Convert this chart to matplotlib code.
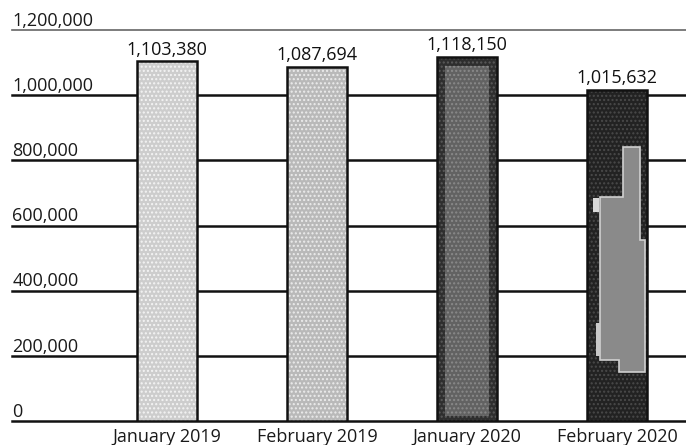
import matplotlib.pyplot as plt
import matplotlib.patches as mpatches
from matplotlib.colors import to_rgba

months = ["January 2019", "February 2019", "January 2020", "February 2020"]
totals = [1103380, 1087694, 1118150, 1015632]
ticks = [0, 200000, 400000, 600000, 800000, 1000000, 1200000]
fills = ["#cdcdcd", "#b9b9b9", "#2e2e2e", "#222222"]
hatch_cols = ["#f4f4f4", "#ececec", "#5a5a5a", "#4a4a4a"]

plt.rcParams['font.family'] = ['Open Sans', 'DejaVu Sans']

fig = plt.figure(figsize=(6.86, 4.45), dpi=100)
ax = fig.add_axes([0.0175, 0.0539, 0.9825, 0.8787])

x = list(range(len(months)))
w = 0.40

# rules across the plot, labels sit on top of them
for t in ticks:
    lw = 1.2 if t == 1200000 else 1.8
    col = "#666666" if t == 1200000 else "#111111"
    ax.axhline(t, color=col, lw=lw, zorder=1, clip_on=False)
    ax.text(-1.03, t + 1000, f"{t:,}", ha="left", va="bottom",
            fontsize=13, color="#1a1a1a", zorder=3)

bars = ax.bar(x, totals, width=w, color=fills, edgecolor="#111111",
              linewidth=1.8, zorder=2)
for b, hc in zip(bars, hatch_cols):
    b.set_hatch("....")
    b._hatch_color = to_rgba(hc)

# lighter, mottled core of the January 2020 bar
b = bars[2]
core = mpatches.Rectangle((b.get_x() + b.get_width() * 0.14, 15000),
                          b.get_width() * 0.72, totals[2] - 45000,
                          facecolor="#626262", edgecolor="none",
                          hatch="....", zorder=2.4)
ax.add_patch(core)
core._hatch_color = to_rgba("#8a8a8a")

# pale insert in the February 2020 bar
b = bars[3]
bx, bw = b.get_x(), b.get_width()
insert = [(0.60, 840000), (0.88, 840000), (0.88, 557000), (0.97, 557000),
          (0.97, 151000), (0.53, 151000), (0.53, 188000), (0.22, 188000),
          (0.22, 686000), (0.60, 686000)]
ax.add_patch(mpatches.Polygon([(bx + bw * fx, fy) for fx, fy in insert],
                              closed=True, facecolor="#8a8a8a",
                              edgecolor="#d0d0d0", lw=1.2, zorder=2.5))
ax.add_patch(mpatches.Rectangle((bx + bw * 0.10, 640000), bw * 0.10, 45000,
                                facecolor="#d8d8d8", edgecolor="none",
                                zorder=2.5))
ax.add_patch(mpatches.Rectangle((bx + bw * 0.15, 200000), bw * 0.06, 100000,
                                facecolor="#c8c8c8", edgecolor="none",
                                zorder=2.5))

for xi, v in zip(x, totals):
    ax.text(xi, v + 9000, f"{v:,}", ha="center", va="bottom",
            fontsize=13, color="#111111", zorder=3)

ax.set_xlim(-1.033, 3.46)
ax.set_ylim(0, 1200000)
ax.set_xticks(x)
ax.set_xticklabels(months, fontsize=13, color="#1a1a1a")
ax.tick_params(axis="x", length=0, pad=5)
ax.set_yticks([])
for s in ax.spines.values():
    s.set_visible(False)

fig.savefig("out.png", dpi=100)
